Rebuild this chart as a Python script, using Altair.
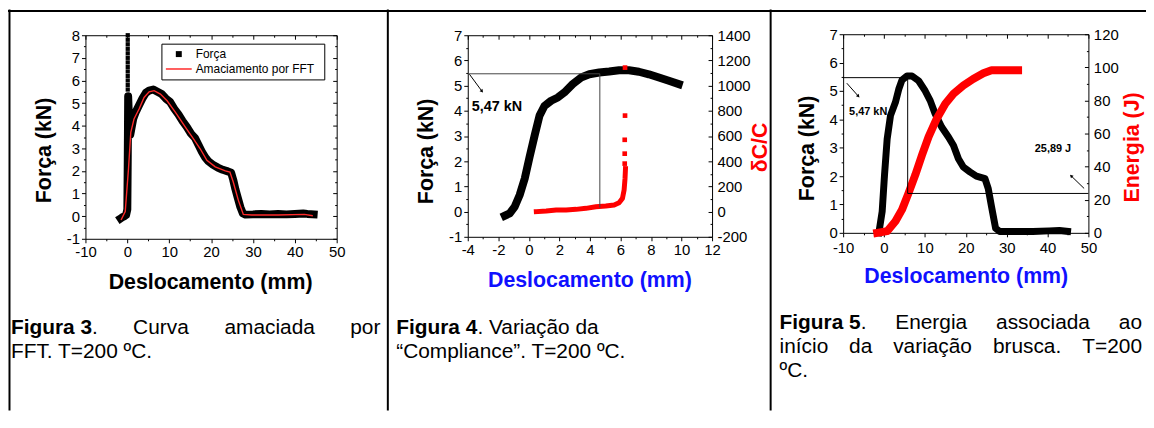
import altair as alt
import pandas as pd

W, H = 1146, 404
FONT = "Liberation Sans"
UM = alt.Data(values=[{}])
VERM = "#ff0000"
AZUL = "#1010ff"

# ---------------- Figura 3 ----------------
f3_forca_x = [-1.6, -1.2, -0.7, -0.3, 0.0, 0.1, 0.2, 0.4, 0.7, 1.0, 1.4, 2.0, 2.8, 3.6, 4.4,
              5.2, 6.2, 7.2, 8.2, 9.2, 10.2, 11.2, 12.2, 13.2, 14.2, 15.2, 16.2, 17.0, 17.8, 18.6,
              19.4, 20.4, 21.6, 22.8, 24.0, 24.8, 25.3, 25.8, 26.4, 27.0, 27.6, 28.2, 30.0, 32.0,
              34.0, 36.0, 38.0, 40.0, 42.0, 43.0, 44.5]
f3_forca_y = [-0.1, -0.05, 0.0, 0.05, 0.3, 2.5, 5.3, 4.3, 3.6, 3.9, 4.3, 4.6, 4.9, 5.2, 5.45,
              5.55, 5.6, 5.5, 5.4, 5.2, 5.05, 4.75, 4.5, 4.2, 3.95, 3.65, 3.45, 3.15, 2.85, 2.6,
              2.42, 2.28, 2.15, 2.05, 1.98, 1.92, 1.6, 1.2, 0.8, 0.4, 0.12, 0.07, 0.08, 0.1,
              0.08, 0.1, 0.08, 0.1, 0.12, 0.1, 0.08]
f3_pico_x = [0.1, 0.1, 0.1, 0.1, 0.1, 0.1, 0.1, 0.1, 0.1, 0.1, 0.1, 0.1, 0.1]
f3_pico_y = [5.6, 5.8, 6.0, 6.2, 6.4, 6.6, 6.8, 7.0, 7.2, 7.4, 7.6, 7.8, 8.0]
f3_fft_x = [-1.5, -0.5, 0.28, 0.83, 1.6, 2.8, 4.0, 5.2, 6.4, 7.9, 9.5, 11.5, 13.9, 15.8, 17.4,
            19.0, 21.0, 23.4, 24.5, 25.3, 26.5, 27.7, 29.7, 36.0, 42.3, 44.3]
f3_fft_y = [-0.17, 0.2, 2.1, 3.71, 4.3, 4.74, 5.25, 5.5, 5.55, 5.4, 5.1, 4.59, 3.93, 3.42, 2.98,
            2.47, 2.18, 2.0, 1.95, 1.51, 0.71, 0.08, 0.05, 0.05, 0.08, 0.02]
f3_x_maj = [-10, 0, 10, 20, 30, 40, 50]
f3_x_min = [-5, 5, 15, 25, 35, 45]
f3_y_maj = [-1, 0, 1, 2, 3, 4, 5, 6, 7, 8]
f3_y_min = [-0.5, 0.5, 1.5, 2.5, 3.5, 4.5, 5.5, 6.5, 7.5]

# ---------------- Figura 4 ----------------
f4_forca_x = [-1.57, -1.25, -0.92, -0.6, -0.27, 0.05, 0.38, 0.7, 1.03, 1.46, 1.9, 2.33, 2.87,
              3.42, 3.96, 4.61, 5.26, 5.91, 6.56, 7.21, 7.86, 8.52, 9.17, 9.82]
f4_forca_y = [-0.16, -0.07, 0.2, 0.66, 1.31, 2.17, 3.02, 3.81, 4.2, 4.4, 4.53, 4.73, 5.06,
              5.32, 5.45, 5.52, 5.56, 5.61, 5.61, 5.55, 5.45, 5.32, 5.19, 5.06]
f4_dc_x = [0.49, 1.14, 1.79, 2.44, 3.09, 3.74, 4.39, 5.04, 5.59, 5.91, 6.13, 6.24, 6.3, 6.33]
f4_dc_y = [0, 5, 13, 13, 18, 26, 39, 45, 53, 71, 105, 171, 263, 342]
f4_dc_pts_x = [6.28, 6.28, 6.28, 6.3, 6.3]
f4_dc_pts_y = [381, 460, 570, 762, 1143]
f4_forca_max = 5.47
f4_x_max = 4.65
f4_y_base = 0.16
f4_x_maj = [-4, -2, 0, 2, 4, 6, 8, 10, 12]
f4_x_min = [-3, -1, 1, 3, 5, 7, 9, 11]
f4_y_maj = [-1, 0, 1, 2, 3, 4, 5, 6, 7]
f4_y_min = [-0.5, 0.5, 1.5, 2.5, 3.5, 4.5, 5.5, 6.5]
f4_y2_maj = [-200, 0, 200, 400, 600, 800, 1000, 1200, 1400]
f4_y2_min = [-100, 100, 300, 500, 700, 900, 1100, 1300]

# ---------------- Figura 5 ----------------
f5_forca_x = [-1.26, -0.45, 0.12, 0.77, 1.58, 2.79, 3.6, 4.41, 5.63, 6.84, 8.46, 10.08, 11.3,
              12.5, 14.1, 15.8, 17.0, 18.2, 19.4, 21.0, 22.6, 24.7, 25.5, 26.3, 27.3, 28.3,
              32.3, 36.4, 40.4, 42.9, 44.9]
f5_forca_y = [0, 0.75, 2.03, 3.31, 4.13, 4.6, 5.06, 5.39, 5.53, 5.53, 5.36, 5.0, 4.66, 4.2,
              3.73, 3.37, 3.08, 2.61, 2.32, 2.15, 2.0, 1.91, 1.56, 0.92, 0.16, 0.05, 0.05,
              0.05, 0.07, 0.08, 0.05]
f5_en_x = [-1.66, 0.77, 2.8, 4.4, 6.0, 7.65, 9.3, 10.9, 12.9, 15.0, 17.0, 19.4, 21.8, 24.3,
           26.3, 29.1, 32.8]
f5_en_y = [0, 1, 7, 14, 24, 35, 47, 58, 69, 78, 84, 89, 93, 96.4, 98.2, 98.2, 98.2]
f5_forca_max = 5.47
f5_x_max = 5.79
f5_y_base = 1.39
f5_en_corte = 23.8
f5_x_maj = [-10, 0, 10, 20, 30, 40, 50]
f5_x_min = [-5, 5, 15, 25, 35, 45]
f5_y_maj = [0, 1, 2, 3, 4, 5, 6, 7]
f5_y_min = [0.5, 1.5, 2.5, 3.5, 4.5, 5.5, 6.5]
f5_y2_maj = [0, 20, 40, 60, 80, 100, 120]
f5_y2_min = [10, 30, 50, 70, 90, 110]

LBL = "datum.value < 0 ? '-' + abs(datum.value) : '' + datum.value"


def escala(dom, rng):
    return alt.Scale(domain=dom, range=rng, nice=False, zero=False)


def serie(xv, yv, sx, sy):
    df = pd.DataFrame({"x": xv, "y": yv})
    return alt.Chart(df).encode(
        x=alt.X("x:Q", scale=sx, axis=None),
        y=alt.Y("y:Q", scale=sy, axis=None),
    )


def eixo(canal, sc, values, orient, offset, labels=False, tick=4, domain=True, pad=2):
    kw = dict(orient=orient, offset=offset, values=values, labels=labels, domain=domain,
              grid=False, title=None, labelFlush=False, labelOverlap=False, labelExpr=LBL,
              labelFontSize=15, labelFont=FONT, labelColor="black", labelPadding=pad,
              domainColor="black", tickColor="black", domainWidth=1, tickWidth=1)
    if tick > 0:
        kw["ticks"] = True
        kw["tickSize"] = tick
    else:
        kw["ticks"] = False
    a = alt.Axis(**kw)
    ch = alt.Chart(UM).mark_point(opacity=0)
    if canal == "x":
        return ch.encode(x=alt.XDatum(values[0], type="quantitative", scale=sc, axis=a))
    return ch.encode(y=alt.YDatum(values[0], type="quantitative", scale=sc, axis=a))


def texto(s, x, y, size, bold=False, color="black", align="left", angle=0):
    kw = dict(text=s, align=align, baseline="middle", fontSize=size, font=FONT,
              fontWeight="bold" if bold else "normal", color=color)
    if angle:
        kw["angle"] = angle
    return alt.Chart(UM).mark_text(**kw).encode(x=alt.value(x), y=alt.value(y))


def linha(x1, y1, x2, y2, w=1.0, color="black"):
    return alt.Chart(UM).mark_rule(color=color, strokeWidth=w).encode(
        x=alt.value(x1), y=alt.value(y1), x2=alt.value(x2), y2=alt.value(y2))


def seta(x1, y1, x2, y2, ang):
    return [linha(x1, y1, x2, y2, 1.0),
            alt.Chart(UM).mark_point(shape="triangle", filled=True, color="black", size=14,
                                     angle=ang, opacity=1).encode(
                x=alt.value(x2), y=alt.value(y2))]


def moldura(sx, sy, xr, yr, xmaj, xmin, ymaj, ymin, espelho_dir=True, xpad=2):
    out = [
        eixo("x", sx, xmaj, "bottom", yr[0] - H, labels=True, tick=4, pad=xpad),
        eixo("x", sx, xmin, "bottom", yr[0] - H, tick=2, domain=False),
        eixo("x", sx, xmaj, "bottom", yr[1] - H, tick=4),
        eixo("x", sx, xmin, "bottom", yr[1] - H, tick=2, domain=False),
        eixo("y", sy, ymaj, "left", -xr[0], labels=True, tick=4),
        eixo("y", sy, ymin, "left", -xr[0], tick=2, domain=False),
    ]
    if espelho_dir:
        out += [eixo("y", sy, ymaj, "left", -xr[1], tick=4),
                eixo("y", sy, ymin, "left", -xr[1], tick=2, domain=False)]
    return out


def eixo_direito(sy2, xr, maj, mn):
    return [eixo("y", sy2, maj, "right", xr[1] - W, labels=True, tick=0, domain=False, pad=5),
            eixo("y", sy2, maj, "left", -xr[1], tick=4),
            eixo("y", sy2, mn, "left", -xr[1], tick=2, domain=False)]


TS = 21.5  # axis title size
camadas = []

# ---- Panel 1 ----
xr1, yr1 = [78, 331], [231, 26]
sx1, sy1 = escala([-10, 50], xr1), escala([-1, 8], yr1)
camadas += [
    serie(f3_forca_x, f3_forca_y, sx1, sy1).mark_line(color="black", strokeWidth=8,
                                                       strokeJoin="round", strokeCap="square"),
    serie(f3_pico_x, f3_pico_y, sx1, sy1).mark_square(color="black", size=18, opacity=1),
    serie(f3_fft_x, f3_fft_y, sx1, sy1).mark_line(color="#ff2a2a", strokeWidth=1.4),
]
camadas += moldura(sx1, sy1, xr1, yr1, f3_x_maj, f3_x_min, f3_y_maj, f3_y_min)
# legend box
camadas += [
    alt.Chart(UM).mark_rect(fill="white", stroke="black", strokeWidth=1).encode(
        x=alt.value(155), x2=alt.value(319), y=alt.value(35), y2=alt.value(71)),
    alt.Chart(UM).mark_square(color="black", size=36, opacity=1).encode(
        x=alt.value(172), y=alt.value(45)),
    linha(159, 60, 185, 60, 1.5, "#ff2a2a"),
    texto("Força", 189, 45, 12),
    texto("Amaciamento por FFT", 189, 60, 12),
    texto("Força (kN)", 37, 142, TS, bold=True, align="center", angle=270),
    texto("Deslocamento (mm)", 204, 276, TS, bold=True, align="center"),
]

# ---- Panel 2 ----
xr2, yr2 = [463, 709], [229, 26]
sx2, sy2 = escala([-4, 12], xr2), escala([-1, 7], yr2)
sy2b = escala([-200, 1400], yr2)
camadas += [
    serie(f4_forca_x, f4_forca_y, sx2, sy2).mark_line(color="black", strokeWidth=8,
                                                       strokeJoin="round", strokeCap="square"),
    serie(f4_dc_x, f4_dc_y, sx2, sy2b).mark_line(color=VERM, strokeWidth=5,
                                                 strokeJoin="round", strokeCap="square"),
    serie(f4_dc_pts_x, f4_dc_pts_y, sx2, sy2b).mark_square(color=VERM, size=22, opacity=1),
    alt.Chart(UM).mark_rule(color="#444444", strokeWidth=1).encode(
        x=alt.XDatum(-4, type="quantitative", scale=sx2, axis=None),
        x2=alt.X2Datum(f4_x_max),
        y=alt.YDatum(f4_forca_max, type="quantitative", scale=sy2, axis=None)),
    alt.Chart(UM).mark_rule(color="#444444", strokeWidth=1).encode(
        x=alt.XDatum(f4_x_max, type="quantitative", scale=sx2, axis=None),
        y=alt.YDatum(f4_y_base, type="quantitative", scale=sy2, axis=None),
        y2=alt.Y2Datum(f4_forca_max)),
]
camadas += moldura(sx2, sy2, xr2, yr2, f4_x_maj, f4_x_min, f4_y_maj, f4_y_min, espelho_dir=False)
camadas += eixo_direito(sy2b, xr2, f4_y2_maj, f4_y2_min)
camadas += seta(464.7, 65.3, 477, 82, 142)
camadas += [
    texto("5,47 kN", 467, 98, 14.5, bold=True),
    texto("Força (kN)", 422, 143, TS, bold=True, align="center", angle=270),
    texto("Deslocamento (mm)", 586, 274, TS, bold=True, color=AZUL, align="center"),
    texto("δC/C", 758, 139, TS, bold=True, color=VERM, align="center", angle=270),
]

# ---- Panel 3 ----
xr3, yr3 = [841, 1088], [225, 25]
sx3, sy3 = escala([-10, 50], xr3), escala([0, 7], yr3)
sy3b = escala([0, 120], yr3)
camadas += [
    serie(f5_forca_x, f5_forca_y, sx3, sy3).mark_line(color="black", strokeWidth=7,
                                                       strokeJoin="round", strokeCap="square"),
    serie(f5_en_x, f5_en_y, sx3, sy3b).mark_line(color=VERM, strokeWidth=8,
                                                 strokeJoin="round", strokeCap="square"),
    alt.Chart(UM).mark_rule(color="black", strokeWidth=1).encode(
        x=alt.XDatum(-10, type="quantitative", scale=sx3, axis=None),
        x2=alt.X2Datum(f5_x_max),
        y=alt.YDatum(f5_forca_max, type="quantitative", scale=sy3, axis=None)),
    alt.Chart(UM).mark_rule(color="black", strokeWidth=1).encode(
        x=alt.XDatum(f5_x_max, type="quantitative", scale=sx3, axis=None),
        y=alt.YDatum(f5_y_base, type="quantitative", scale=sy3, axis=None),
        y2=alt.Y2Datum(f5_forca_max)),
    alt.Chart(UM).mark_rule(color="black", strokeWidth=1).encode(
        x=alt.XDatum(f5_x_max, type="quantitative", scale=sx3, axis=None),
        x2=alt.X2Datum(50),
        y=alt.YDatum(f5_en_corte, type="quantitative", scale=sy3b, axis=None)),
]
camadas += moldura(sx3, sy3, xr3, yr3, f5_x_maj, f5_x_min, f5_y_maj, f5_y_min,
                   espelho_dir=False, xpad=4)
camadas += eixo_direito(sy3b, xr3, f5_y2_maj, f5_y2_min)
camadas += seta(844.7, 74.3, 856, 87, 138)
camadas += seta(1083.7, 180.3, 1071, 168, 314)
camadas += [
    texto("5,47 kN", 847, 103, 11, bold=True),
    texto("25,89 J", 1034, 141, 11, bold=True),
    texto("Força (kN)", 806, 140, TS, bold=True, align="center", angle=270),
    texto("Deslocamento (mm)", 965, 270, TS, bold=True, color=AZUL, align="center"),
    texto("Energia (J)", 1133, 139, TS, bold=True, color=VERM, align="center", angle=270),
]

# ---- table borders ----
camadas += [
    linha(0, 1.5, W, 1.5, 2),
    linha(1.5, 0, 1.5, H, 2),
    linha(382.5, 0, 382.5, H, 2),
    linha(768, 0, 768, H, 2),
]

# ---- captions ----
CS = 21
L1, L2 = 321, 345
M1, M2, M3 = 316, 340, 364
camadas += [
    texto("Figura 3", 3, L1, CS, bold=True),
    texto(".", 84.7, L1, CS),
    texto("Curva", 126, L1, CS),
    texto("amaciada", 218, L1, CS),
    texto("por", 375, L1, CS, align="right"),
    texto("FFT. T=200 ºC.", 3, L2, CS),
    texto("Figura 4", 391, L1, CS, bold=True),
    texto(".  Variação da", 472.7, L1, CS),
    texto("“Compliance”. T=200 ºC.", 391, L2, CS),
    texto("Figura 5", 777, M1, CS, bold=True),
    texto(".", 858.7, M1, CS),
    texto("Energia", 893.5, M1, CS),
    texto("associada", 995, M1, CS),
    texto("ao", 1142, M1, CS, align="right"),
    texto("início", 777, M2, CS),
    texto("da", 847, M2, CS),
    texto("variação", 891.4, M2, CS),
    texto("brusca.", 991.8, M2, CS),
    texto("T=200", 1142, M2, CS, align="right"),
    texto("ºC.", 777, M3, CS),
]

chart = alt.layer(*camadas).resolve_scale(
    x="independent", y="independent"
).resolve_axis(
    x="independent", y="independent"
).properties(
    width=W, height=H, padding=0, autosize=alt.AutoSizeParams(type="none")
).configure_view(stroke=None)

chart.save("out.html", embed_options={"renderer": "svg", "actions": False})
